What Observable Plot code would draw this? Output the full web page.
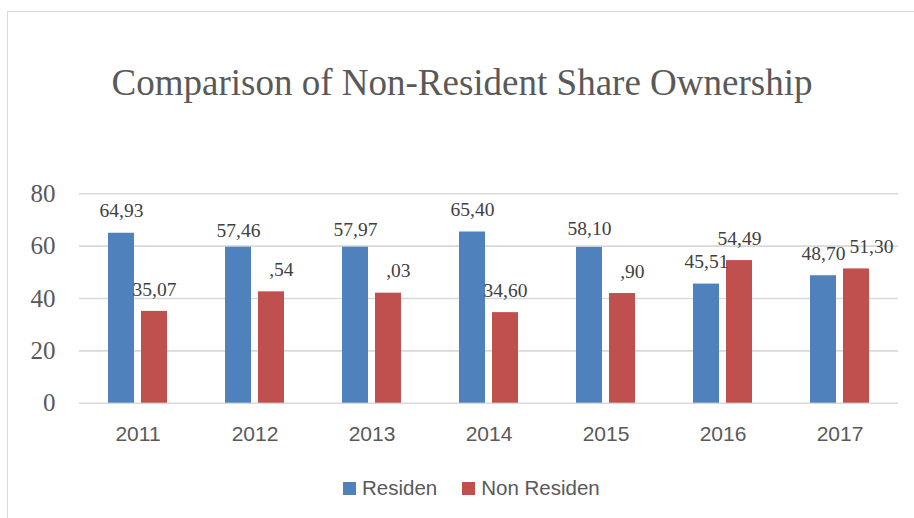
<!DOCTYPE html>
<html>
<head>
<meta charset="utf-8">
<script src="https://cdn.jsdelivr.net/npm/d3@7"></script>
<script src="https://cdn.jsdelivr.net/npm/@observablehq/plot@0.6"></script>
<style>
  html, body { margin: 0; padding: 0; background: #fff; }
  body { width: 914px; height: 518px; overflow: hidden; position: relative; }
  #frame { position: absolute; left: 7px; top: 11px; width: 1000px; height: 600px;
           border-left: 1.5px solid #d9d9d9; border-top: 1.5px solid #d9d9d9; }
  #title { position: absolute; left: 0; top: 64px; width: 924px; text-align: center;
           font-family: "Liberation Serif", "Times New Roman", serif; font-size: 37px;
           line-height: 37px; color: #595959; white-space: nowrap; }
  #chart { position: absolute; left: 0; top: 150px; }
  #legend { position: absolute; left: 343px; top: 476px; display: flex; align-items: center;
            font-family: "Liberation Sans", Arial, sans-serif; font-size: 20.5px; color: #595959; }
  #legend .item { display: flex; align-items: center; margin-right: 25px; }
  #legend .sw { width: 13px; height: 13px; margin-right: 6px; }
</style>
</head>
<body>
<div id="frame"></div>
<div id="title">Comparison of Non-Resident Share Ownership</div>
<div id="chart"></div>
<div id="legend"></div>
<script>
// ---- data ----
const years = ["2011", "2012", "2013", "2014", "2015", "2016", "2017"];
const seriesNames = ["Residen", "Non Residen"];
const seriesColors = ["#4F81BD", "#C0504D"];
// bar heights as drawn
const residenBar = [64.93, 59.6, 59.6, 65.40, 59.5, 45.51, 48.70];
const nonResidenBar = [35.07, 42.54, 42.03, 34.60, 41.90, 54.49, 51.30];
// data labels (value they sit above, and the visible text)
const residenLabelValue = [64.93, 57.46, 57.97, 65.40, 58.10, 45.51, 48.70];
const residenLabelText = ["64,93", "57,46", "57,97", "65,40", "58,10", "45,51", "48,70"];
const nonResidenLabelValue = [35.07, 42.54, 42.03, 34.60, 41.90, 54.49, 51.30];
const nonResidenLabelText = ["35,07", ",54", ",03", "34,60", ",90", "54,49", "51,30"];
const yTicks = [0, 20, 40, 60, 80];

// ---- table ----
const rows = [];
years.forEach((yr, i) => {
  rows.push({year: yr, series: seriesNames[0], value: residenBar[i], labelValue: residenLabelValue[i], label: residenLabelText[i]});
  rows.push({year: yr, series: seriesNames[1], value: nonResidenBar[i], labelValue: nonResidenLabelValue[i], label: nonResidenLabelText[i]});
});
const lastYear = years[years.length - 1];
const partLabels = rows.filter(d => d.label.startsWith(","));
const shiftedLabels = rows.filter(d => d.year === lastYear && d.series === seriesNames[1]);
const fullLabels = rows.filter(d => !partLabels.includes(d) && !shiftedLabels.includes(d));

const serif = "Liberation Serif, Times New Roman, serif";
const sans = "Liberation Sans, Arial, sans-serif";
const labelStyle = {fontSize: 19.5, fontFamily: serif, fill: "#404040"};

const plot = Plot.plot({
  width: 914,
  height: 300,
  marginLeft: 76,
  marginRight: 14,
  marginTop: 43.3,
  marginBottom: 47.3,
  style: {background: "transparent", overflow: "visible"},
  fx: {domain: years, padding: 0, label: null},
  x: {domain: seriesNames, paddingInner: 0.206, paddingOuter: 0.834, align: 0.5, axis: null},
  y: {domain: [0, 80], label: null},
  color: {domain: seriesNames, range: seriesColors},
  marks: [
    Plot.gridY(yTicks, {stroke: "#d9d9d9", strokeOpacity: 1, strokeWidth: 1.6}),
    Plot.axisY(yTicks, {tickSize: 0, tickPadding: 24, fontSize: 25, fontFamily: serif, color: "#595959", label: null}),
    Plot.axisFx({anchor: "bottom", tickSize: 0, tickPadding: 23, fontSize: 21, fontFamily: sans, color: "#595959", label: null}),
    Plot.barY(rows, {fx: "year", x: "series", y: "value", fill: "series"}),
    Plot.text(fullLabels, {fx: "year", x: "series", y: "labelValue", text: "label", dy: -22, ...labelStyle}),
    Plot.text(shiftedLabels, {fx: "year", x: "series", y: "labelValue", text: "label", dy: -22, dx: 15, ...labelStyle}),
    Plot.text(partLabels, {fx: "year", x: "series", y: "labelValue", text: "label", dy: -22, dx: 22,
      textAnchor: "end", ...labelStyle})
  ]
});
document.getElementById("chart").appendChild(plot);

// enforce fonts on axis tick labels
const yTickStrings = yTicks.map(String);
plot.querySelectorAll("text").forEach(t => {
  const s = t.textContent.trim();
  if (yTickStrings.includes(s)) {
    t.style.fontFamily = '"Liberation Serif", "Times New Roman", serif';
    t.style.fontSize = "25px";
    t.style.fill = "#595959";
  } else if (years.includes(s)) {
    t.style.fontFamily = '"Liberation Sans", Arial, sans-serif';
    t.style.fontSize = "21px";
    t.style.fill = "#595959";
  }
});

// ---- legend ----
const legend = document.getElementById("legend");
seriesNames.forEach((name, i) => {
  const item = document.createElement("div");
  item.className = "item";
  const sw = document.createElement("div");
  sw.className = "sw";
  sw.style.background = seriesColors[i];
  const t = document.createElement("span");
  t.textContent = name;
  item.appendChild(sw);
  item.appendChild(t);
  legend.appendChild(item);
});
</script>
</body>
</html>
